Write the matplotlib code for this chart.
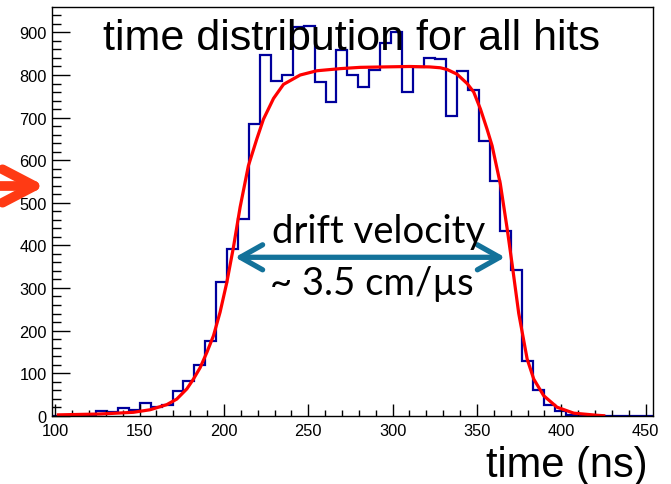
import numpy as np
import matplotlib
matplotlib.use('Agg')
import matplotlib.pyplot as plt
from matplotlib.ticker import MultipleLocator

# histogram: 55 bins spanning the whole x axis
x_lo, x_hi = 98.2, 454.7
bin_counts = [0, 0, 1, 2, 10, 8, 17, 14, 31, 21,
              26, 57, 82, 119, 175, 314, 392, 461, 686, 846,
              786, 801, 912, 914, 784, 736, 859, 799, 772, 812,
              876, 902, 759, 818, 840, 837, 703, 810, 765, 645,
              551, 434, 341, 129, 60, 25, 11, 2, 1, 0,
              0, 0, 0, 0, 0]

# fit curve, points
fit_x = [101.8, 126.5, 146.3, 156.2, 166.1, 172.0, 178.0, 181.9, 185.9, 189.9,
         193.8, 197.7, 201.7, 205.6, 209.6, 214.5, 219.5, 223.4, 229.4, 235.3,
         245.2, 255.1, 269.0, 280.8, 295.0, 310.0, 322.0, 328.3, 332.3, 338.2,
         344.2, 348.1, 352.1, 356.0, 359.0, 363.9, 367.9, 370.9, 374.8, 379.8,
         383.7, 389.6, 397.5, 407.4, 421.3, 425.2]
fit_y = [2, 4, 8, 14, 26, 39, 63, 86, 113, 149,
         188, 243, 313, 395, 490, 587, 650, 696, 745, 778,
         800, 810, 815, 818, 819, 820, 819, 817, 813, 802,
         780, 760, 720, 673, 634, 544, 440, 355, 240, 133,
         86, 47, 20, 6, 1, 0]

title = 'time distribution for all hits'
x_title = 'time (ns)'

plt.rcParams['font.family'] = ['Liberation Sans', 'DejaVu Sans']

fig = plt.figure(figsize=(6.71, 4.85), dpi=100)
ax = fig.add_axes([0.0779, 0.1408, 0.896, 0.8427])

edges = np.linspace(x_lo, x_hi, len(bin_counts) + 1)
ax.stairs(bin_counts, edges, color='#00009c', lw=1.6)
ax.plot(fit_x, fit_y, color='#ff0000', lw=2.3)

ax.set_xlim(x_lo, x_hi)
ax.set_ylim(0, 959.7)

ax.xaxis.set_major_locator(MultipleLocator(50))
ax.xaxis.set_minor_locator(MultipleLocator(10))
ax.yaxis.set_major_locator(MultipleLocator(100))
ax.yaxis.set_minor_locator(MultipleLocator(20))
ax.tick_params(axis='y', which='major', direction='in', length=13, width=1,
               labelsize=11.8, pad=4, right=False)
ax.tick_params(axis='y', which='minor', direction='in', length=6.5, width=1, right=False)
ax.tick_params(axis='x', which='major', direction='in', length=8.4, width=1,
               labelsize=11.8, pad=5, top=False)
ax.tick_params(axis='x', which='minor', direction='in', length=4.3, width=1, top=False)
for s in ax.spines.values():
    s.set_linewidth(1)

fig.text(103 / 671, 1 - 50 / 485, title, fontsize=31, va='baseline', ha='left')
fig.text(648 / 671, 1 - 477 / 485, x_title, fontsize=30, va='baseline', ha='right')

# drift velocity annotation
ax.annotate('', xy=(505 / 671, 1 - 258.3 / 485), xytext=(235 / 671, 1 - 258.3 / 485),
            xycoords='figure fraction', textcoords='figure fraction',
            arrowprops=dict(arrowstyle='<->,head_length=0.8,head_width=0.45',
                            color='#13729a', lw=3.8, shrinkA=0, shrinkB=0,
                            mutation_scale=20))
fig.text(271.7 / 671, 1 - 243.3 / 485, 'drift velocity', fontsize=27.5,
         family=['Lato', 'DejaVu Sans'], va='baseline', ha='left')
fig.text(270 / 671, 1 - 295 / 485, '~ 3.5 cm/\u00b5s', fontsize=27.5,
         family=['Lato', 'DejaVu Sans'], va='baseline', ha='left')

# red marker arrow outside the frame
fig.add_artist(matplotlib.patches.FancyArrowPatch(
    (0, 1 - 187 / 485), (45 / 671, 1 - 187 / 485), transform=fig.transFigure,
    arrowstyle='->,head_length=1.15,head_width=0.6', mutation_scale=20,
    color='#ff3a14', lw=7, shrinkA=0, shrinkB=0))

fig.savefig('out.png', dpi=100)
